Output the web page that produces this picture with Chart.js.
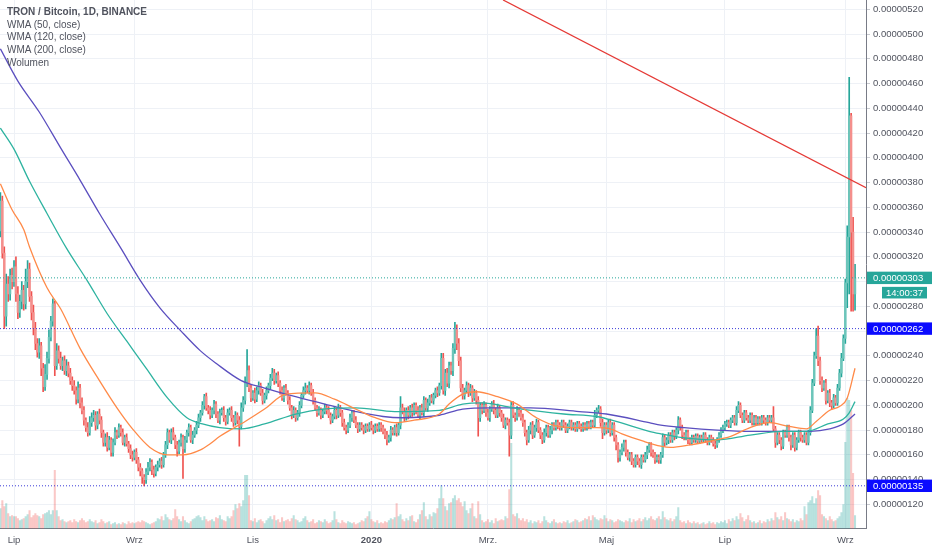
<!DOCTYPE html>
<html><head><meta charset="utf-8">
<script src="https://cdn.jsdelivr.net/npm/chart.js@4.4.1/dist/chart.umd.min.js"></script>
<style>
html,body{margin:0;padding:0;background:#fff;}
#wrap{position:relative;width:932px;height:550px;overflow:hidden;background:#fff;}
#legend{position:absolute;left:7px;top:6px;font-family:"Liberation Sans",Arial,sans-serif;font-size:10px;color:#50535e;line-height:12.7px;pointer-events:none;white-space:nowrap;}
#legend .t{font-weight:bold;}
</style></head><body>
<div id="wrap"><canvas id="c" width="932" height="550"></canvas>
<div id="legend"><div class="t">TRON / Bitcoin, 1D, BINANCE</div><div>WMA (50, close)</div><div>WMA (120, close)</div><div>WMA (200, close)</div><div>Wolumen</div></div>
</div>
<script>
// Prices in satoshi (1e-8 BTC). Day 0 = 2019-07-01.
const SAT = 1e-8;
const firstDay = -7;
const firstOpen = 341;
const closes = [
365,323,272,298,290,305,300,312,
290,275,284,293,282,300,310,288,275,262,
250,243,248,230,215,225,238,255,268,282,
232,244,238,232,236,228,232,226,220,216,
212,205,214,202,196,188,182,178,186,190,
192,184,193,188,178,170,174,166,172,162,
170,178,176,182,178,170,174,169,165,160,
158,162,156,150,147,142,140,146,150,154,
148,145,150,152,155,152,160,168,178,172,
178,174,168,163,170,174,165,172,178,182,
172,176,180,184,190,194,200,207,198,196,
192,196,201,193,188,194,196,190,187,194,
196,190,186,192,188,183,198,204,218,228,
214,206,210,205,212,216,210,204,208,212,
216,222,226,220,224,218,212,206,214,210,
204,198,192,196,190,194,200,208,212,214,
212,216,210,204,198,194,196,192,195,198,
196,192,188,191,196,192,198,194,186,182,
180,184,190,194,188,184,181,184,182,180,
183,181,184,182,180,183,181,184,182,179,
176,172,174,180,178,182,178,184,198,195,
190,196,192,198,194,200,196,192,198,194,
204,198,202,206,204,208,212,210,216,238,
212,226,218,232,228,246,262,250,236,214,
208,212,216,210,214,206,210,204,190,200,
196,200,194,190,197,201,196,192,198,194,
190,184,188,186,176,200,192,190,196,194,
190,186,178,172,180,184,176,182,186,180,
176,172,178,182,176,180,184,182,186,184,
182,186,184,180,183,186,182,184,181,185,
183,181,184,182,185,183,186,184,192,196,
197,186,178,184,180,186,178,184,174,168,
158,162,166,170,162,158,160,155,152,158,
155,152,158,156,160,164,168,162,160,156,
158,156,160,174,170,172,176,172,178,175,
180,188,182,176,174,178,172,170,174,172,
175,171,174,172,176,172,170,174,172,169,
168,172,176,180,182,185,186,184,188,190,
186,196,200,192,188,194,190,188,192,186,
190,186,189,186,190,188,186,190,188,190,
181,170,176,172,167,178,176,182,174,168,
176,166,172,178,174,172,176,170,178,196,
218,240,256,236,220,214,218,204,210,202,
200,206,202,214,226,238,254,299,336,434,340,290,303
];
const wickUp = [
7,4,5,8,6,5,6,5,
8,6,5,7,4,10,7,5,4,6,
5,4,6,3,4,8,5,6,4,4,
2,6,4,5,3,4,5,3,4,3,
4,3,5,3,4,3,2,4,5,4,
4,3,2,4,3,2,3,4,3,2,
3,4,2,3,2,3,2,3,2,3,
3,2,3,2,3,2,2,3,4,3,
2,3,2,3,2,3,2,3,3,2,
3,4,2,3,2,3,2,3,2,3,
2,3,2,3,3,2,3,2,3,2,
3,2,3,2,2,3,2,3,2,3,
2,3,2,3,2,3,4,3,5,17,
4,3,2,4,3,3,2,3,2,3,
2,3,4,3,2,3,2,3,2,3,
2,3,2,3,2,2,3,2,3,4,
2,3,2,3,2,2,3,2,2,3,
2,3,2,2,3,2,3,2,2,3,
2,2,3,2,2,3,2,2,2,2,
2,2,2,3,2,2,2,2,2,2,
2,3,2,3,2,2,3,2,9,3,
3,2,3,2,3,2,2,3,2,3,
3,2,3,2,3,2,2,3,2,4,
4,3,4,3,3,4,5,3,4,3,
3,2,3,2,3,2,3,2,3,2,
2,3,2,3,2,2,3,2,3,2,
2,3,2,2,3,3,3,2,3,2,
2,3,2,2,3,2,3,2,3,2,
2,2,3,2,2,3,2,2,2,2,
2,2,2,2,2,2,2,2,2,2,
2,2,2,2,2,2,2,2,4,2,
3,2,3,2,2,2,3,2,2,2,
2,2,3,2,2,2,2,2,2,2,
2,2,2,2,2,3,2,2,2,2,
2,2,2,3,2,2,2,2,2,2,
2,3,2,2,2,2,2,2,2,2,
2,2,2,2,2,2,2,2,2,2,
2,2,2,2,2,2,2,2,2,2,
2,3,3,2,2,2,2,2,2,2,
2,2,2,2,2,2,2,2,2,2,
9,2,2,2,2,2,2,2,2,2,
2,2,2,2,2,2,2,2,2,3,
3,3,6,8,3,3,2,3,2,3,
2,3,2,3,3,4,3,3,9,31,2,12,11
];
const wickDn = [
5,4,10,8,6,5,6,4,
6,5,4,6,5,4,5,4,6,5,
5,4,5,6,4,3,4,4,3,4,
8,3,4,3,4,3,4,3,3,4,
3,4,3,4,3,4,3,3,2,3,
3,4,3,3,4,3,3,3,2,3,
3,2,3,2,3,2,3,2,3,3,
3,2,3,3,4,5,5,3,2,3,
4,3,2,3,2,3,2,2,3,2,
3,2,3,4,2,3,24,3,2,3,
2,3,2,3,2,3,2,3,2,3,
3,2,3,3,2,3,2,3,3,2,
2,3,3,2,3,16,2,3,3,3,
3,3,2,3,2,3,2,3,2,3,
2,3,2,3,2,3,3,2,3,2,
3,2,3,2,3,2,3,2,2,3,
2,3,2,3,2,3,2,3,2,2,
3,2,3,2,2,3,2,3,3,2,
3,2,2,3,2,2,3,2,2,3,
2,2,2,2,3,2,2,2,3,2,
3,4,2,3,2,2,3,2,3,2,
3,2,3,2,3,2,3,2,3,2,
3,2,3,2,2,3,2,3,2,3,
3,4,3,4,3,4,4,5,4,3,
3,3,2,3,2,3,2,3,15,3,
3,2,3,2,3,2,3,2,2,3,
3,2,3,2,17,3,2,3,2,3,
2,3,3,4,2,3,3,2,3,2,
3,3,2,3,2,2,3,2,2,3,
2,2,2,2,2,2,2,2,2,2,
2,2,2,2,2,2,2,2,2,2,
2,3,5,2,3,2,3,2,3,4,
4,3,2,3,3,2,3,3,2,2,
3,2,3,2,2,3,2,3,2,3,
2,3,3,2,3,2,3,2,2,3,
2,3,2,3,2,2,3,2,2,2,
2,2,2,2,2,2,2,2,2,2,
3,2,2,2,2,2,2,2,2,2,
2,2,2,2,2,2,2,2,2,2,
2,2,2,2,2,2,2,2,2,2,
2,4,2,3,3,2,2,2,3,4,
2,3,2,2,3,2,2,2,2,2,
2,2,2,4,3,3,2,3,2,3,
3,2,2,2,2,3,2,4,20,46,64,14,13
];
const volume = [
20,28,22,25,15,12,13,12,
12,10,8,9,10,12,14,18,11,13,
15,13,12,10,14,15,16,18,14,18,
58,18,12,8,9,7,6,7,8,6,
9,7,6,8,10,8,6,7,9,7,
6,8,5,6,9,7,5,6,7,4,
5,6,4,5,4,6,5,4,7,5,
6,5,6,7,6,8,7,6,5,4,
5,6,7,10,9,12,8,14,11,9,
8,10,19,12,9,7,12,8,6,5,
7,9,10,12,13,11,8,12,9,7,
8,9,7,11,10,13,9,8,7,12,
10,12,18,24,20,25,22,28,53,53,
33,8,7,10,6,8,9,7,5,8,
10,12,9,13,8,9,6,11,7,8,
9,7,10,13,9,8,6,7,10,12,
8,6,7,9,5,6,8,7,6,9,
7,5,6,8,17,9,6,5,8,6,
5,7,6,5,6,4,5,6,8,7,
10,12,17,9,7,6,8,5,6,5,
7,6,8,10,9,11,25,12,14,9,
7,10,8,12,13,7,6,9,14,18,
26,12,9,14,12,16,15,20,30,43,
30,22,18,25,26,30,33,28,30,26,
22,27,18,15,20,25,12,10,27,14,
8,6,7,9,6,8,5,10,7,8,
9,8,12,10,39,85,14,12,15,10,
8,10,7,9,6,8,5,7,6,8,
5,7,12,8,6,5,7,9,6,5,
6,5,7,6,8,5,6,7,9,8,
6,7,8,10,9,12,8,13,11,9,
8,10,9,13,10,7,9,8,6,7,
9,8,7,6,8,7,10,6,9,7,
8,10,7,9,11,8,10,12,9,8,
10,12,9,17,11,9,8,10,7,9,
12,21,8,6,7,5,8,6,5,7,
5,6,4,5,6,4,5,7,5,6,
4,6,5,7,6,8,5,9,7,10,
8,12,9,15,11,7,9,13,8,6,
7,5,6,8,5,7,6,9,7,10,
8,16,11,9,12,8,16,10,9,7,
9,6,8,7,10,8,22,14,26,28,
32,25,30,38,33,14,12,10,8,12,
9,7,8,10,12,16,24,86,130,128,118,55,13
];
// Weighted moving averages [day, value in sat]
const wma50 = [[-7,379],[-1,358],[5,342],[8,328],[17,295],[24,278],[34,246],[44,220],[53,198],[61,181],[70,166],[79,160],[87,160],[96,164],[101,169],[106,175],[119,187],[129,197],[140,209],[155,210],[165,205],[176,197],[186,190],[196,186],[206,188],[219,193],[224,201],[231,209],[238,211],[249,207],[259,201],[269,190],[280,183],[290,182],[300,182],[307,181],[313,177],[324,171],[333,167],[338,166],[348,168],[358,171],[369,175],[379,182],[389,186],[399,183],[408,181],[413,187],[420,196],[425,199],[429,206],[433,230]];
const wma120 = [[-7,424],[0,407],[8,381],[17,355],[27,327],[38,300],[48,274],[58,252],[68,230],[79,206],[89,190],[97,185],[106,182],[117,181],[129,185],[145,193],[159,197],[176,198],[196,195],[219,196],[231,201],[241,202],[257,198],[283,193],[300,191],[310,187],[327,179],[333,177],[344,174],[362,172],[379,176],[396,179],[408,179],[419,185],[427,189],[430,194],[433,203]];
const wma200 = [[-7,488],[2,462],[13,437],[24,408],[34,382],[44,355],[55,327],[65,301],[75,279],[86,260],[96,244],[104,234],[117,220],[129,214],[145,207],[160,201],[176,195],[190,191],[200,190],[219,192],[231,197],[245,198],[266,198],[291,195],[305,193],[327,186],[333,184],[345,182],[362,180],[379,179],[396,179],[410,179],[420,181],[427,185],[433,193]];
const trendLine = [[251.8,527.5],[438.65,375.8]];
const monthTickDays = [0,62,123,184,244,305,366,428];
const monthTickLabels = ['Lip','Wrz','Lis','2020','Mrz.','Maj','Lip','Wrz'];
const priceTicks = [120,140,160,180,200,220,240,260,280,300,320,340,360,380,400,420,440,460,480,500,520];
const lastPrice = 303;
const levelLines = [262,135];
const countdown = '14:00:37';
const xMin = -7.21, xMax = 438.65, yMin = 100.5, yMax = 527.5, volMax = 528;

const FONT = '"Liberation Sans", Arial, sans-serif';
const n = closes.length;
if (wickUp.length!==n || wickDn.length!==n || volume.length!==n) throw new Error('length mismatch '+n+' '+wickUp.length+' '+wickDn.length+' '+volume.length);
const opens = closes.map((c,i)=> i===0 ? firstOpen : closes[i-1]);
const days = closes.map((c,i)=> firstDay+i);
const isUp = closes.map((c,i)=> c>=opens[i]);
const GREEN='#26a69a', RED='#ef5350';
const wickData = closes.map((c,i)=>({x:days[i], y:[Math.min(c,opens[i])-wickDn[i], Math.max(c,opens[i])+wickUp[i]]}));
const bodyData = closes.map((c,i)=>({x:days[i], y:[opens[i], c]}));
const volData = volume.map((v,i)=>({x:days[i], y:v}));
const pts = a => a.map(p=>({x:p[0], y:p[1]}));
const hline = v => [{x:xMin,y:v},{x:xMax,y:v}];
const fmt = v => (v*SAT).toFixed(8);

const tagPlugin = {
  id:'tags',
  afterDraw(chart){
    const {ctx, chartArea, scales:{y}} = chart;
    const W = chart.width;
    ctx.save();
    ctx.font = '9.5px '+FONT;
    ctx.textBaseline = 'middle';
    const tags = [[lastPrice,'#26a69a'],[levelLines[0],'#0a0aff'],[levelLines[1],'#0a0aff']];
    tags.forEach(([v,col])=>{
      const py = y.getPixelForValue(v);
      ctx.fillStyle = col;
      ctx.fillRect(chartArea.right+1, py-6.2, W-chartArea.right-1, 12.4);
      ctx.fillStyle = '#fff';
      ctx.fillText(fmt(v), chartArea.right+7, py+0.5);
    });
    const py = y.getPixelForValue(lastPrice);
    ctx.fillStyle = '#26a69a';
    ctx.fillRect(chartArea.right+16, py+9, 45, 11.6);
    ctx.fillStyle = '#fff';
    ctx.textAlign = 'center';
    ctx.fillText(countdown, chartArea.right+38.5, py+15.2);
    ctx.restore();
  }
};

new Chart(document.getElementById('c'), {
  type:'bar',
  data:{ datasets:[
    {type:'bar', label:'Wolumen', data:volData, yAxisID:'yv', grouped:false, barThickness:1.4, borderWidth:0,
     backgroundColor:isUp.map(u=>u?'rgba(38,166,154,0.32)':'rgba(239,83,80,0.32)'), order:10},
    {type:'bar', label:'wicks', data:wickData, yAxisID:'y', grouped:false, barThickness:1, borderWidth:0,
     backgroundColor:isUp.map(u=>u?GREEN:RED), order:5},
    {type:'bar', label:'TRXBTC', data:bodyData, yAxisID:'y', grouped:false, barThickness:1.7, borderWidth:0, minBarLength:1,
     backgroundColor:isUp.map(u=>u?'#6cc5ba':'#f48f8c'), order:4},
    {type:'line', label:'WMA 200', data:pts(wma200), yAxisID:'y', borderColor:'#5b4fbf', borderWidth:1.3, pointRadius:0, cubicInterpolationMode:'monotone', order:3},
    {type:'line', label:'WMA 120', data:pts(wma120), yAxisID:'y', borderColor:'#2eb3a0', borderWidth:1.3, pointRadius:0, cubicInterpolationMode:'monotone', order:2},
    {type:'line', label:'WMA 50', data:pts(wma50), yAxisID:'y', borderColor:'#ff8a48', borderWidth:1.3, pointRadius:0, cubicInterpolationMode:'monotone', order:1},
    {type:'line', label:'trend', data:pts(trendLine), yAxisID:'y', borderColor:'#e53935', borderWidth:1.3, pointRadius:0, order:1},
    {type:'line', label:'last', data:hline(lastPrice), yAxisID:'y', borderColor:'#26a69a', borderWidth:1, borderDash:[1,2], pointRadius:0, order:0},
    {type:'line', label:'l1', data:hline(levelLines[0]), yAxisID:'y', borderColor:'#3a3ad8', borderWidth:1, borderDash:[1,2], pointRadius:0, order:0},
    {type:'line', label:'l2', data:hline(levelLines[1]), yAxisID:'y', borderColor:'#3a3ad8', borderWidth:1, borderDash:[1,2], pointRadius:0, order:0}
  ]},
  options:{
    responsive:false, animation:false, events:[],
    layout:{padding:0},
    plugins:{legend:{display:false}, tooltip:{enabled:false}},
    scales:{
      x:{type:'linear', min:xMin, max:xMax, offset:false,
         grid:{color:'#eef1f6', drawTicks:false, offset:false},
         border:{display:true, color:'#787b86'},
         ticks:{padding:6, color:'#50535e', autoSkip:false, maxRotation:0,
                font:c=>({family:FONT, size:9.5, weight:(c.index===3?'bold':'normal')}),
                callback:(v,i)=>monthTickLabels[i]},
         afterBuildTicks:s=>{ s.ticks = monthTickDays.map(v=>({value:v})); },
         afterFit:s=>{ s.height = 21.5; s.paddingLeft = 0; s.paddingRight = 0; }},
      y:{type:'linear', position:'right', min:yMin, max:yMax, beginAtZero:false,
         grid:{color:'#eef1f6', tickLength:4, tickColor:'#c8cad0'},
         border:{display:true, color:'#787b86'},
         ticks:{padding:3, color:'#50535e', autoSkip:false, font:{family:FONT, size:9.5}, callback:v=>fmt(v)},
         afterBuildTicks:s=>{ s.ticks = priceTicks.map(v=>({value:v})); },
         afterFit:s=>{ s.width = 66; s.paddingTop = 0; s.paddingBottom = 0; }},
      yv:{type:'linear', display:false, min:0, max:volMax}
    }
  },
  plugins:[tagPlugin]
});
</script>
</body></html>
